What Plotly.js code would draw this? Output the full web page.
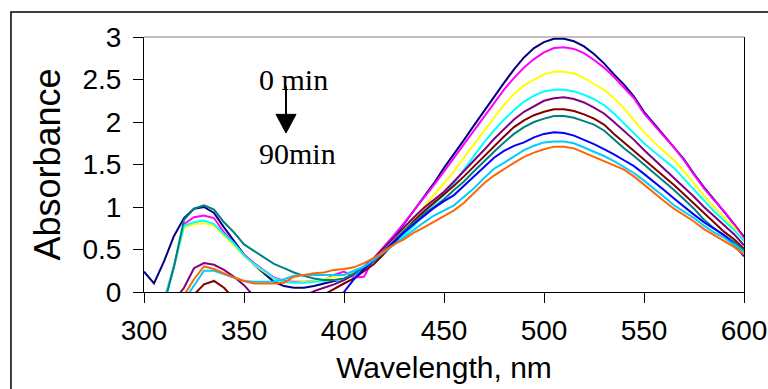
<!DOCTYPE html>
<html>
<head>
<meta charset="utf-8">
<script src="https://cdn.plot.ly/plotly-3.0.1.min.js"></script>
<style>html,body{margin:0;padding:0;background:#fff;}#chart{width:768px;height:389px;}</style>
</head>
<body>
<div id="chart"></div>
<script>
var wavelength = [300,305,310,315,320,325,330,335,340,345,350,355,360,365,370,375,380,385,390,395,
  400,405,410,415,420,425,430,435,440,445,450,455,460,465,470,475,480,485,490,495,
  500,505,510,515,520,525,530,535,540,545,550,555,560,565,570,575,580,585,590,595,600];

var t1 = [0.24,0.10,0.36,0.66,0.87,0.98,1.00,0.93,0.76,0.60,0.44,0.32,0.22,0.12,0.07,0.05,0.05,0.07,0.10,0.13,
  0.15,0.20,0.28,0.38,0.50,0.64,0.80,0.96,1.12,1.28,1.46,1.62,1.79,1.96,2.13,2.30,2.46,2.62,2.76,2.87,
  2.94,2.98,2.98,2.95,2.89,2.80,2.69,2.56,2.44,2.30,2.12,1.98,1.84,1.71,1.56,1.39,1.23,1.09,0.95,0.80,0.65];
var t2 = [null,null,-0.10,0.30,0.80,0.88,0.90,0.87,0.70,0.57,0.44,0.34,0.26,0.17,0.13,0.12,0.12,0.13,0.14,0.20,
  0.24,0.17,0.18,0.40,0.53,0.67,0.81,0.96,1.10,1.26,1.42,1.58,1.74,1.90,2.06,2.22,2.38,2.52,2.64,2.74,
  2.82,2.87,2.88,2.86,2.81,2.73,2.64,2.53,2.41,2.28,2.10,1.96,1.83,1.70,1.55,1.38,1.22,1.08,0.95,0.80,0.63];
var t3 = [null,null,-0.10,0.30,0.76,0.80,0.81,0.78,0.66,0.55,0.42,0.32,0.24,0.16,0.12,0.11,0.12,0.13,0.15,0.18,
  0.20,0.24,0.30,0.38,0.50,0.62,0.74,0.86,1.00,1.14,1.28,1.42,1.58,1.74,1.90,2.05,2.20,2.33,2.43,2.50,
  2.56,2.59,2.59,2.57,2.52,2.45,2.38,2.28,2.16,2.02,1.88,1.76,1.66,1.55,1.42,1.27,1.13,1.00,0.88,0.76,0.60];
var t4 = [null,null,-0.10,0.30,0.78,0.82,0.84,0.80,0.68,0.57,0.43,0.33,0.25,0.16,0.12,0.11,0.11,0.12,0.13,0.14,
  0.14,0.20,0.28,0.36,0.46,0.57,0.67,0.78,0.93,1.03,1.14,1.28,1.44,1.60,1.76,1.90,2.03,2.14,2.24,2.31,
  2.36,2.38,2.38,2.36,2.32,2.27,2.20,2.10,1.98,1.87,1.75,1.65,1.56,1.46,1.33,1.20,1.07,0.95,0.84,0.73,0.60];
var t5 = [null,null,null,-0.10,0.05,0.28,0.34,0.32,0.26,0.18,0.08,-0.05,null,null,null,null,-0.05,0.01,0.05,0.09,
  0.14,0.21,0.30,0.40,0.52,0.64,0.77,0.88,0.99,1.08,1.18,1.30,1.42,1.55,1.67,1.80,1.92,2.03,2.12,2.19,
  2.25,2.28,2.29,2.27,2.23,2.17,2.10,2.00,1.90,1.79,1.67,1.56,1.45,1.35,1.23,1.12,1.00,0.89,0.78,0.68,0.55];
var t6 = [null,null,null,null,-0.10,-0.03,0.09,0.13,0.05,-0.08,null,null,null,null,null,null,null,null,-0.03,0.04,
  0.10,0.16,0.24,0.33,0.45,0.58,0.72,0.84,0.95,1.05,1.14,1.25,1.36,1.48,1.60,1.72,1.83,1.94,2.02,2.08,
  2.12,2.15,2.15,2.13,2.09,2.04,1.97,1.86,1.76,1.67,1.56,1.47,1.36,1.26,1.15,1.04,0.92,0.81,0.71,0.62,0.51];
var t7 = [null,null,-0.15,0.30,0.85,0.98,1.02,0.97,0.82,0.70,0.56,0.48,0.40,0.33,0.28,0.23,0.19,0.16,0.14,0.14,
  0.16,0.22,0.30,0.38,0.48,0.60,0.72,0.82,0.92,1.00,1.09,1.20,1.30,1.42,1.54,1.65,1.76,1.86,1.94,2.00,
  2.04,2.07,2.07,2.05,2.01,1.97,1.90,1.79,1.69,1.60,1.50,1.41,1.31,1.20,1.09,0.98,0.85,0.75,0.67,0.59,0.49];
var t8 = [null,null,null,null,null,null,null,null,null,null,null,null,null,null,null,null,null,null,null,-0.10,
  0.00,0.15,0.27,0.37,0.48,0.60,0.70,0.80,0.90,0.99,1.07,1.14,1.25,1.36,1.48,1.58,1.66,1.72,1.76,1.82,
  1.86,1.88,1.87,1.84,1.79,1.74,1.68,1.62,1.55,1.48,1.39,1.30,1.20,1.10,1.00,0.91,0.82,0.74,0.67,0.56,0.42];
var t9 = [null,null,null,null,-0.10,0.08,0.25,0.25,0.21,0.17,0.13,0.12,0.12,0.12,0.15,0.19,0.20,0.20,0.20,0.20,
  0.20,0.25,0.30,0.38,0.47,0.56,0.65,0.74,0.82,0.90,0.96,1.02,1.12,1.22,1.34,1.45,1.52,1.60,1.67,1.72,
  1.76,1.77,1.77,1.75,1.70,1.65,1.60,1.54,1.47,1.40,1.31,1.22,1.12,1.02,0.95,0.87,0.78,0.70,0.64,0.56,0.47];
var t10 = [null,null,null,-0.15,-0.04,0.15,0.30,0.27,0.22,0.17,0.13,0.10,0.10,0.10,0.11,0.18,0.20,0.22,0.23,0.26,
  0.27,0.29,0.34,0.40,0.48,0.56,0.62,0.70,0.76,0.83,0.90,0.96,1.05,1.17,1.28,1.37,1.45,1.52,1.59,1.64,
  1.68,1.71,1.71,1.69,1.64,1.59,1.54,1.49,1.44,1.36,1.26,1.16,1.07,0.98,0.91,0.83,0.74,0.67,0.61,0.53,0.44];

var seriesValues = [t1,t2,t3,t4,t5,t6,t7,t8,t9,t10];
var seriesNames = ['0 min','10 min','20 min','30 min','40 min','50 min','60 min','70 min','80 min','90 min'];
var seriesColors = ['#000080','#FF00FF','#FFFF00','#00FFFF','#800080','#800000','#008080','#0000FF','#00CCFF','#FF6600'];
var xTicks = [300,350,400,450,500,550,600];
var yTicks = [0,0.5,1,1.5,2,2.5,3];

var traces = seriesValues.map(function(v,i){
  return {x: wavelength, y: v, type:'scatter', mode:'lines', name: seriesNames[i],
    line:{color: seriesColors[i], width:2}, connectgaps:false, hoverinfo:'skip'};
});

var sans = 'Liberation Sans, Arial, sans-serif';
var tickFont = {family:sans, size:28, color:'#000'};
var layout = {
  width:768, height:389,
  margin:{l:144, r:24, t:37, b:97, pad:0},
  paper_bgcolor:'#fff', plot_bgcolor:'#fff',
  showlegend:false,
  xaxis:{range:[300,600], tickvals:xTicks, ticks:'outside', ticklen:10, tickcolor:'#000', tickwidth:1,
    showline:true, linecolor:'#000', linewidth:1, mirror:false, showgrid:false, zeroline:false,
    tickfont:tickFont, ticklabelstandoff:3,
    title:{text:'Wavelength, nm', font:{family:sans, size:30, color:'#000'}, standoff:12}},
  yaxis:{range:[0,3], tickvals:yTicks, ticks:'outside', ticklen:10, tickcolor:'#000', tickwidth:1,
    showline:true, linecolor:'#000', linewidth:1, mirror:true, showgrid:false, zeroline:false,
    tickfont:tickFont, ticklabelstandoff:6,
    title:{text:'Absorbance', font:{family:sans, size:36, color:'#000'}, standoff:10}},
  shapes:[
    {type:'rect', xref:'paper', yref:'paper', x0:-0.2217, x1:1.2, y0:-0.6, y1:1.098,
      line:{color:'#000', width:1.5}, fillcolor:'rgba(0,0,0,0)', layer:'below'},
    {type:'line', xref:'paper', yref:'paper', x0:0, x1:1, y0:1, y1:1, line:{color:'#808080', width:1}},
    {type:'line', xref:'x', yref:'y', x0:371, x1:371, y0:2.42, y1:2.05, line:{color:'#000', width:2}},
    {type:'path', xref:'x', yref:'y', path:'M 366,2.09 L 376,2.09 L 371,1.87 Z',
      fillcolor:'#000', line:{color:'#000', width:1}}
  ],
  annotations:[
    {x:374.5, y:2.5, xref:'x', yref:'y', text:'0 min', showarrow:false,
      font:{family:'Liberation Serif, Times New Roman, serif', size:30, color:'#000'}},
    {x:376.5, y:1.63, xref:'x', yref:'y', text:'90min', showarrow:false,
      font:{family:'Liberation Serif, Times New Roman, serif', size:30, color:'#000'}}
  ]
};
Plotly.newPlot('chart', traces, layout, {staticPlot:true, displayModeBar:false});
</script>
</body>
</html>
